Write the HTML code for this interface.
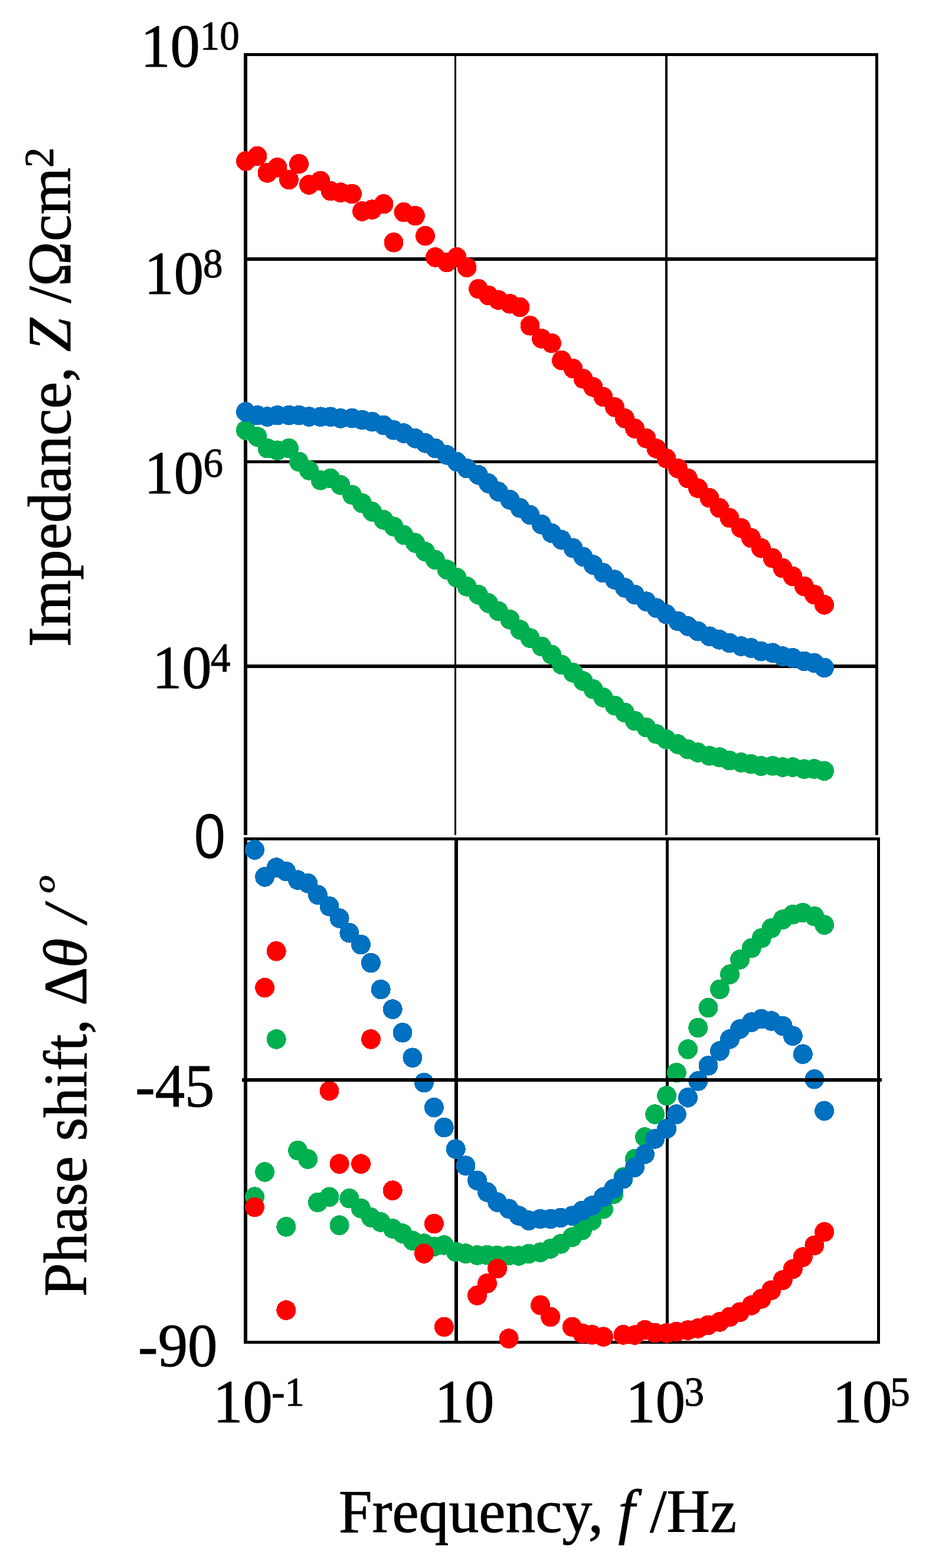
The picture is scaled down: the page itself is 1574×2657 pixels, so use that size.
<!DOCTYPE html>
<html lang="en"><head><meta charset="utf-8"><title>Impedance and phase shift vs frequency</title>
<style>
html,body{margin:0;padding:0;background:#fff}
svg{display:block}
text{fill:#000;white-space:pre;stroke:#000;stroke-width:1.0px;stroke-linejoin:round}
.s{font-family:"Liberation Serif","Times New Roman",serif}
.a{font-family:"Liberation Sans",Arial,sans-serif;stroke:none}
.i{font-style:italic}
</style></head>
<body>
<svg width="1574" height="2657" viewBox="0 0 1574 2657">
<rect width="1574" height="2657" fill="#fff"/>
<g fill="#000" shape-rendering="crispEdges">
<rect x="413" y="90" width="1075" height="5"/>
<rect x="413" y="90" width="6" height="1325"/>
<rect x="1483" y="90" width="5" height="1325"/>
<rect x="770" y="90" width="3" height="1325"/>
<rect x="1127" y="90" width="4" height="1325"/>
<rect x="413" y="436" width="1075" height="6"/>
<rect x="413" y="780" width="1075" height="5"/>
<rect x="413" y="1126" width="1075" height="6"/>
<rect x="413" y="1419" width="1078" height="5"/>
<rect x="413" y="2272" width="1078" height="5"/>
<rect x="413" y="1419" width="6" height="858"/>
<rect x="1486" y="1419" width="5" height="858"/>
<rect x="770" y="1419" width="6" height="858"/>
<rect x="1128" y="1419" width="5" height="858"/>
</g>
<g fill="#00b050" shape-rendering="crispEdges">
<ellipse cx="416.5" cy="728.9" rx="16.5" ry="16.85"/>
<ellipse cx="436.0" cy="740.1" rx="16.5" ry="16.85"/>
<ellipse cx="453.0" cy="759.7" rx="16.5" ry="16.85"/>
<ellipse cx="470.0" cy="763.3" rx="16.5" ry="16.85"/>
<ellipse cx="489.5" cy="759.7" rx="16.5" ry="16.85"/>
<ellipse cx="506.5" cy="782.5" rx="16.5" ry="16.85"/>
<ellipse cx="523.5" cy="796.9" rx="16.5" ry="16.85"/>
<ellipse cx="543.0" cy="813.8" rx="16.5" ry="16.85"/>
<ellipse cx="560.0" cy="810.6" rx="16.5" ry="16.85"/>
<ellipse cx="577.0" cy="821.9" rx="16.5" ry="16.85"/>
<ellipse cx="596.5" cy="838.5" rx="16.5" ry="16.85"/>
<ellipse cx="613.5" cy="852.7" rx="16.5" ry="16.85"/>
<ellipse cx="630.5" cy="867.0" rx="16.5" ry="16.85"/>
<ellipse cx="650.0" cy="880.9" rx="16.5" ry="16.85"/>
<ellipse cx="667.0" cy="892.3" rx="16.5" ry="16.85"/>
<ellipse cx="684.0" cy="906.4" rx="16.5" ry="16.85"/>
<ellipse cx="703.5" cy="920.0" rx="16.5" ry="16.85"/>
<ellipse cx="720.5" cy="934.8" rx="16.5" ry="16.85"/>
<ellipse cx="737.5" cy="948.7" rx="16.5" ry="16.85"/>
<ellipse cx="757.0" cy="965.1" rx="16.5" ry="16.85"/>
<ellipse cx="774.0" cy="978.9" rx="16.5" ry="16.85"/>
<ellipse cx="791.0" cy="993.9" rx="16.5" ry="16.85"/>
<ellipse cx="810.5" cy="1007.8" rx="16.5" ry="16.85"/>
<ellipse cx="827.5" cy="1022.0" rx="16.5" ry="16.85"/>
<ellipse cx="844.5" cy="1035.7" rx="16.5" ry="16.85"/>
<ellipse cx="864.0" cy="1049.9" rx="16.5" ry="16.85"/>
<ellipse cx="881.0" cy="1067.1" rx="16.5" ry="16.85"/>
<ellipse cx="898.0" cy="1081.2" rx="16.5" ry="16.85"/>
<ellipse cx="917.5" cy="1095.4" rx="16.5" ry="16.85"/>
<ellipse cx="934.5" cy="1109.3" rx="16.5" ry="16.85"/>
<ellipse cx="951.5" cy="1126.3" rx="16.5" ry="16.85"/>
<ellipse cx="971.0" cy="1139.9" rx="16.5" ry="16.85"/>
<ellipse cx="988.0" cy="1154.0" rx="16.5" ry="16.85"/>
<ellipse cx="1005.0" cy="1167.8" rx="16.5" ry="16.85"/>
<ellipse cx="1022.0" cy="1181.9" rx="16.5" ry="16.85"/>
<ellipse cx="1041.5" cy="1195.7" rx="16.5" ry="16.85"/>
<ellipse cx="1058.5" cy="1207.4" rx="16.5" ry="16.85"/>
<ellipse cx="1075.5" cy="1221.6" rx="16.5" ry="16.85"/>
<ellipse cx="1095.0" cy="1232.7" rx="16.5" ry="16.85"/>
<ellipse cx="1112.0" cy="1243.8" rx="16.5" ry="16.85"/>
<ellipse cx="1129.0" cy="1252.9" rx="16.5" ry="16.85"/>
<ellipse cx="1148.5" cy="1261.0" rx="16.5" ry="16.85"/>
<ellipse cx="1165.5" cy="1269.7" rx="16.5" ry="16.85"/>
<ellipse cx="1182.5" cy="1275.1" rx="16.5" ry="16.85"/>
<ellipse cx="1202.0" cy="1280.8" rx="16.5" ry="16.85"/>
<ellipse cx="1219.0" cy="1283.2" rx="16.5" ry="16.85"/>
<ellipse cx="1236.0" cy="1288.7" rx="16.5" ry="16.85"/>
<ellipse cx="1255.5" cy="1292.0" rx="16.5" ry="16.85"/>
<ellipse cx="1272.5" cy="1294.7" rx="16.5" ry="16.85"/>
<ellipse cx="1289.5" cy="1298.0" rx="16.5" ry="16.85"/>
<ellipse cx="1309.0" cy="1297.8" rx="16.5" ry="16.85"/>
<ellipse cx="1326.0" cy="1300.0" rx="16.5" ry="16.85"/>
<ellipse cx="1343.0" cy="1300.0" rx="16.5" ry="16.85"/>
<ellipse cx="1362.5" cy="1303.2" rx="16.5" ry="16.85"/>
<ellipse cx="1379.5" cy="1302.9" rx="16.5" ry="16.85"/>
<ellipse cx="1396.5" cy="1306.3" rx="16.5" ry="16.85"/>
</g>
<g fill="#0070c0" shape-rendering="crispEdges">
<ellipse cx="416.5" cy="698.0" rx="16.5" ry="16.85"/>
<ellipse cx="436.0" cy="703.7" rx="16.5" ry="16.85"/>
<ellipse cx="453.0" cy="706.1" rx="16.5" ry="16.85"/>
<ellipse cx="470.0" cy="703.7" rx="16.5" ry="16.85"/>
<ellipse cx="489.5" cy="703.7" rx="16.5" ry="16.85"/>
<ellipse cx="506.5" cy="703.7" rx="16.5" ry="16.85"/>
<ellipse cx="523.5" cy="706.1" rx="16.5" ry="16.85"/>
<ellipse cx="543.0" cy="706.3" rx="16.5" ry="16.85"/>
<ellipse cx="560.0" cy="706.3" rx="16.5" ry="16.85"/>
<ellipse cx="577.0" cy="708.9" rx="16.5" ry="16.85"/>
<ellipse cx="596.5" cy="708.7" rx="16.5" ry="16.85"/>
<ellipse cx="613.5" cy="711.5" rx="16.5" ry="16.85"/>
<ellipse cx="630.5" cy="714.7" rx="16.5" ry="16.85"/>
<ellipse cx="650.0" cy="720.6" rx="16.5" ry="16.85"/>
<ellipse cx="667.0" cy="728.8" rx="16.5" ry="16.85"/>
<ellipse cx="684.0" cy="734.1" rx="16.5" ry="16.85"/>
<ellipse cx="703.5" cy="742.8" rx="16.5" ry="16.85"/>
<ellipse cx="720.5" cy="750.8" rx="16.5" ry="16.85"/>
<ellipse cx="737.5" cy="759.7" rx="16.5" ry="16.85"/>
<ellipse cx="757.0" cy="770.9" rx="16.5" ry="16.85"/>
<ellipse cx="774.0" cy="782.6" rx="16.5" ry="16.85"/>
<ellipse cx="791.0" cy="793.7" rx="16.5" ry="16.85"/>
<ellipse cx="810.5" cy="804.8" rx="16.5" ry="16.85"/>
<ellipse cx="827.5" cy="819.0" rx="16.5" ry="16.85"/>
<ellipse cx="844.5" cy="833.1" rx="16.5" ry="16.85"/>
<ellipse cx="864.0" cy="846.9" rx="16.5" ry="16.85"/>
<ellipse cx="881.0" cy="860.8" rx="16.5" ry="16.85"/>
<ellipse cx="898.0" cy="872.5" rx="16.5" ry="16.85"/>
<ellipse cx="917.5" cy="888.7" rx="16.5" ry="16.85"/>
<ellipse cx="934.5" cy="903.3" rx="16.5" ry="16.85"/>
<ellipse cx="951.5" cy="914.8" rx="16.5" ry="16.85"/>
<ellipse cx="971.0" cy="928.8" rx="16.5" ry="16.85"/>
<ellipse cx="988.0" cy="943.4" rx="16.5" ry="16.85"/>
<ellipse cx="1005.0" cy="957.1" rx="16.5" ry="16.85"/>
<ellipse cx="1022.0" cy="970.7" rx="16.5" ry="16.85"/>
<ellipse cx="1041.5" cy="982.2" rx="16.5" ry="16.85"/>
<ellipse cx="1058.5" cy="995.9" rx="16.5" ry="16.85"/>
<ellipse cx="1075.5" cy="1007.7" rx="16.5" ry="16.85"/>
<ellipse cx="1095.0" cy="1019.2" rx="16.5" ry="16.85"/>
<ellipse cx="1112.0" cy="1030.3" rx="16.5" ry="16.85"/>
<ellipse cx="1129.0" cy="1040.8" rx="16.5" ry="16.85"/>
<ellipse cx="1148.5" cy="1052.5" rx="16.5" ry="16.85"/>
<ellipse cx="1165.5" cy="1061.0" rx="16.5" ry="16.85"/>
<ellipse cx="1182.5" cy="1069.7" rx="16.5" ry="16.85"/>
<ellipse cx="1202.0" cy="1078.3" rx="16.5" ry="16.85"/>
<ellipse cx="1219.0" cy="1083.9" rx="16.5" ry="16.85"/>
<ellipse cx="1236.0" cy="1089.5" rx="16.5" ry="16.85"/>
<ellipse cx="1255.5" cy="1095.0" rx="16.5" ry="16.85"/>
<ellipse cx="1272.5" cy="1098.0" rx="16.5" ry="16.85"/>
<ellipse cx="1289.5" cy="1103.7" rx="16.5" ry="16.85"/>
<ellipse cx="1309.0" cy="1106.3" rx="16.5" ry="16.85"/>
<ellipse cx="1326.0" cy="1112.1" rx="16.5" ry="16.85"/>
<ellipse cx="1343.0" cy="1114.8" rx="16.5" ry="16.85"/>
<ellipse cx="1362.5" cy="1120.4" rx="16.5" ry="16.85"/>
<ellipse cx="1379.5" cy="1123.3" rx="16.5" ry="16.85"/>
<ellipse cx="1396.5" cy="1131.4" rx="16.5" ry="16.85"/>
</g>
<g fill="#ff0000" shape-rendering="crispEdges">
<ellipse cx="416.5" cy="272.9" rx="16.5" ry="16.85"/>
<ellipse cx="436.0" cy="264.6" rx="16.5" ry="16.85"/>
<ellipse cx="453.0" cy="292.9" rx="16.5" ry="16.85"/>
<ellipse cx="470.0" cy="283.8" rx="16.5" ry="16.85"/>
<ellipse cx="489.5" cy="304.4" rx="16.5" ry="16.85"/>
<ellipse cx="506.5" cy="277.7" rx="16.5" ry="16.85"/>
<ellipse cx="523.5" cy="313.1" rx="16.5" ry="16.85"/>
<ellipse cx="543.0" cy="306.4" rx="16.5" ry="16.85"/>
<ellipse cx="560.0" cy="323.6" rx="16.5" ry="16.85"/>
<ellipse cx="577.0" cy="326.2" rx="16.5" ry="16.85"/>
<ellipse cx="596.5" cy="328.6" rx="16.5" ry="16.85"/>
<ellipse cx="613.5" cy="358.0" rx="16.5" ry="16.85"/>
<ellipse cx="630.5" cy="355.1" rx="16.5" ry="16.85"/>
<ellipse cx="650.0" cy="345.7" rx="16.5" ry="16.85"/>
<ellipse cx="667.0" cy="410.8" rx="16.5" ry="16.85"/>
<ellipse cx="684.0" cy="359.6" rx="16.5" ry="16.85"/>
<ellipse cx="703.5" cy="365.6" rx="16.5" ry="16.85"/>
<ellipse cx="720.5" cy="399.7" rx="16.5" ry="16.85"/>
<ellipse cx="737.5" cy="435.9" rx="16.5" ry="16.85"/>
<ellipse cx="757.0" cy="444.6" rx="16.5" ry="16.85"/>
<ellipse cx="774.0" cy="435.9" rx="16.5" ry="16.85"/>
<ellipse cx="791.0" cy="453.1" rx="16.5" ry="16.85"/>
<ellipse cx="810.5" cy="489.5" rx="16.5" ry="16.85"/>
<ellipse cx="827.5" cy="500.6" rx="16.5" ry="16.85"/>
<ellipse cx="844.5" cy="508.3" rx="16.5" ry="16.85"/>
<ellipse cx="864.0" cy="514.8" rx="16.5" ry="16.85"/>
<ellipse cx="881.0" cy="520.6" rx="16.5" ry="16.85"/>
<ellipse cx="898.0" cy="551.8" rx="16.5" ry="16.85"/>
<ellipse cx="917.5" cy="573.8" rx="16.5" ry="16.85"/>
<ellipse cx="934.5" cy="581.5" rx="16.5" ry="16.85"/>
<ellipse cx="951.5" cy="610.7" rx="16.5" ry="16.85"/>
<ellipse cx="971.0" cy="624.6" rx="16.5" ry="16.85"/>
<ellipse cx="988.0" cy="641.8" rx="16.5" ry="16.85"/>
<ellipse cx="1005.0" cy="655.9" rx="16.5" ry="16.85"/>
<ellipse cx="1022.0" cy="672.5" rx="16.5" ry="16.85"/>
<ellipse cx="1041.5" cy="689.9" rx="16.5" ry="16.85"/>
<ellipse cx="1058.5" cy="708.9" rx="16.5" ry="16.85"/>
<ellipse cx="1075.5" cy="726.1" rx="16.5" ry="16.85"/>
<ellipse cx="1095.0" cy="742.9" rx="16.5" ry="16.85"/>
<ellipse cx="1112.0" cy="760.0" rx="16.5" ry="16.85"/>
<ellipse cx="1129.0" cy="776.8" rx="16.5" ry="16.85"/>
<ellipse cx="1148.5" cy="793.8" rx="16.5" ry="16.85"/>
<ellipse cx="1165.5" cy="810.6" rx="16.5" ry="16.85"/>
<ellipse cx="1182.5" cy="827.2" rx="16.5" ry="16.85"/>
<ellipse cx="1202.0" cy="843.7" rx="16.5" ry="16.85"/>
<ellipse cx="1219.0" cy="860.7" rx="16.5" ry="16.85"/>
<ellipse cx="1236.0" cy="877.6" rx="16.5" ry="16.85"/>
<ellipse cx="1255.5" cy="894.8" rx="16.5" ry="16.85"/>
<ellipse cx="1272.5" cy="911.6" rx="16.5" ry="16.85"/>
<ellipse cx="1289.5" cy="928.8" rx="16.5" ry="16.85"/>
<ellipse cx="1309.0" cy="945.8" rx="16.5" ry="16.85"/>
<ellipse cx="1326.0" cy="962.7" rx="16.5" ry="16.85"/>
<ellipse cx="1343.0" cy="976.5" rx="16.5" ry="16.85"/>
<ellipse cx="1362.5" cy="993.6" rx="16.5" ry="16.85"/>
<ellipse cx="1379.5" cy="1007.6" rx="16.5" ry="16.85"/>
<ellipse cx="1396.5" cy="1024.8" rx="16.5" ry="16.85"/>
</g>
<g fill="#00b050" shape-rendering="crispEdges">
<ellipse cx="431.5" cy="2028.1" rx="16.5" ry="16.85"/>
<ellipse cx="448.6" cy="1985.9" rx="16.5" ry="16.85"/>
<ellipse cx="468.2" cy="1760.9" rx="16.5" ry="16.85"/>
<ellipse cx="484.8" cy="2078.8" rx="16.5" ry="16.85"/>
<ellipse cx="504.5" cy="1949.5" rx="16.5" ry="16.85"/>
<ellipse cx="521.7" cy="1964.1" rx="16.5" ry="16.85"/>
<ellipse cx="538.4" cy="2037.4" rx="16.5" ry="16.85"/>
<ellipse cx="558.0" cy="2028.3" rx="16.5" ry="16.85"/>
<ellipse cx="575.1" cy="2076.2" rx="16.5" ry="16.85"/>
<ellipse cx="591.9" cy="2030.7" rx="16.5" ry="16.85"/>
<ellipse cx="611.5" cy="2047.7" rx="16.5" ry="16.85"/>
<ellipse cx="628.4" cy="2062.9" rx="16.5" ry="16.85"/>
<ellipse cx="645.2" cy="2071.0" rx="16.5" ry="16.85"/>
<ellipse cx="665.2" cy="2081.9" rx="16.5" ry="16.85"/>
<ellipse cx="682.0" cy="2090.1" rx="16.5" ry="16.85"/>
<ellipse cx="698.9" cy="2102.3" rx="16.5" ry="16.85"/>
<ellipse cx="718.4" cy="2107.1" rx="16.5" ry="16.85"/>
<ellipse cx="735.4" cy="2112.3" rx="16.5" ry="16.85"/>
<ellipse cx="752.4" cy="2109.9" rx="16.5" ry="16.85"/>
<ellipse cx="772.2" cy="2121.3" rx="16.5" ry="16.85"/>
<ellipse cx="789.0" cy="2124.1" rx="16.5" ry="16.85"/>
<ellipse cx="808.5" cy="2126.9" rx="16.5" ry="16.85"/>
<ellipse cx="825.5" cy="2126.7" rx="16.5" ry="16.85"/>
<ellipse cx="842.7" cy="2127.3" rx="16.5" ry="16.85"/>
<ellipse cx="862.1" cy="2127.4" rx="16.5" ry="16.85"/>
<ellipse cx="879.0" cy="2128.0" rx="16.5" ry="16.85"/>
<ellipse cx="896.0" cy="2124.5" rx="16.5" ry="16.85"/>
<ellipse cx="915.5" cy="2122.1" rx="16.5" ry="16.85"/>
<ellipse cx="932.7" cy="2116.0" rx="16.5" ry="16.85"/>
<ellipse cx="950.0" cy="2107.8" rx="16.5" ry="16.85"/>
<ellipse cx="969.4" cy="2096.3" rx="16.5" ry="16.85"/>
<ellipse cx="986.4" cy="2084.7" rx="16.5" ry="16.85"/>
<ellipse cx="1003.0" cy="2068.5" rx="16.5" ry="16.85"/>
<ellipse cx="1022.5" cy="2048.7" rx="16.5" ry="16.85"/>
<ellipse cx="1039.6" cy="2023.5" rx="16.5" ry="16.85"/>
<ellipse cx="1056.0" cy="1994.8" rx="16.5" ry="16.85"/>
<ellipse cx="1075.5" cy="1963.7" rx="16.5" ry="16.85"/>
<ellipse cx="1092.6" cy="1926.9" rx="16.5" ry="16.85"/>
<ellipse cx="1109.7" cy="1888.1" rx="16.5" ry="16.85"/>
<ellipse cx="1129.6" cy="1856.7" rx="16.5" ry="16.85"/>
<ellipse cx="1146.3" cy="1817.7" rx="16.5" ry="16.85"/>
<ellipse cx="1165.5" cy="1777.9" rx="16.5" ry="16.85"/>
<ellipse cx="1182.8" cy="1741.5" rx="16.5" ry="16.85"/>
<ellipse cx="1200.0" cy="1707.6" rx="16.5" ry="16.85"/>
<ellipse cx="1219.5" cy="1676.4" rx="16.5" ry="16.85"/>
<ellipse cx="1236.6" cy="1651.1" rx="16.5" ry="16.85"/>
<ellipse cx="1253.6" cy="1625.9" rx="16.5" ry="16.85"/>
<ellipse cx="1273.3" cy="1606.5" rx="16.5" ry="16.85"/>
<ellipse cx="1290.2" cy="1589.7" rx="16.5" ry="16.85"/>
<ellipse cx="1306.9" cy="1572.9" rx="16.5" ry="16.85"/>
<ellipse cx="1326.2" cy="1558.1" rx="16.5" ry="16.85"/>
<ellipse cx="1343.3" cy="1549.7" rx="16.5" ry="16.85"/>
<ellipse cx="1360.3" cy="1546.6" rx="16.5" ry="16.85"/>
<ellipse cx="1379.9" cy="1552.7" rx="16.5" ry="16.85"/>
<ellipse cx="1396.7" cy="1567.2" rx="16.5" ry="16.85"/>
</g>
<g fill="#ff0000" shape-rendering="crispEdges">
<ellipse cx="431.5" cy="2045.5" rx="16.5" ry="16.85"/>
<ellipse cx="448.6" cy="1673.7" rx="16.5" ry="16.85"/>
<ellipse cx="468.2" cy="1611.8" rx="16.5" ry="16.85"/>
<ellipse cx="484.8" cy="2220.1" rx="16.5" ry="16.85"/>
<ellipse cx="558.0" cy="1848.5" rx="16.5" ry="16.85"/>
<ellipse cx="575.1" cy="1972.2" rx="16.5" ry="16.85"/>
<ellipse cx="611.5" cy="1972.2" rx="16.5" ry="16.85"/>
<ellipse cx="628.4" cy="1760.9" rx="16.5" ry="16.85"/>
<ellipse cx="665.2" cy="2017.2" rx="16.5" ry="16.85"/>
<ellipse cx="718.4" cy="2124.1" rx="16.5" ry="16.85"/>
<ellipse cx="735.4" cy="2073.6" rx="16.5" ry="16.85"/>
<ellipse cx="752.4" cy="2248.4" rx="16.5" ry="16.85"/>
<ellipse cx="808.5" cy="2195.1" rx="16.5" ry="16.85"/>
<ellipse cx="825.5" cy="2174.7" rx="16.5" ry="16.85"/>
<ellipse cx="842.7" cy="2149.6" rx="16.5" ry="16.85"/>
<ellipse cx="862.1" cy="2268.2" rx="16.5" ry="16.85"/>
<ellipse cx="915.5" cy="2211.6" rx="16.5" ry="16.85"/>
<ellipse cx="932.7" cy="2231.5" rx="16.5" ry="16.85"/>
<ellipse cx="969.4" cy="2248.4" rx="16.5" ry="16.85"/>
<ellipse cx="986.4" cy="2259.3" rx="16.5" ry="16.85"/>
<ellipse cx="1003.0" cy="2261.8" rx="16.5" ry="16.85"/>
<ellipse cx="1022.5" cy="2265.2" rx="16.5" ry="16.85"/>
<ellipse cx="1056.0" cy="2261.9" rx="16.5" ry="16.85"/>
<ellipse cx="1075.5" cy="2262.2" rx="16.5" ry="16.85"/>
<ellipse cx="1092.6" cy="2253.7" rx="16.5" ry="16.85"/>
<ellipse cx="1109.7" cy="2258.5" rx="16.5" ry="16.85"/>
<ellipse cx="1129.6" cy="2258.9" rx="16.5" ry="16.85"/>
<ellipse cx="1146.3" cy="2256.5" rx="16.5" ry="16.85"/>
<ellipse cx="1165.5" cy="2254.1" rx="16.5" ry="16.85"/>
<ellipse cx="1182.8" cy="2250.9" rx="16.5" ry="16.85"/>
<ellipse cx="1200.0" cy="2245.4" rx="16.5" ry="16.85"/>
<ellipse cx="1219.5" cy="2239.9" rx="16.5" ry="16.85"/>
<ellipse cx="1236.6" cy="2231.4" rx="16.5" ry="16.85"/>
<ellipse cx="1253.6" cy="2223.3" rx="16.5" ry="16.85"/>
<ellipse cx="1273.3" cy="2211.9" rx="16.5" ry="16.85"/>
<ellipse cx="1290.2" cy="2200.8" rx="16.5" ry="16.85"/>
<ellipse cx="1306.9" cy="2186.3" rx="16.5" ry="16.85"/>
<ellipse cx="1326.2" cy="2169.1" rx="16.5" ry="16.85"/>
<ellipse cx="1343.3" cy="2150.3" rx="16.5" ry="16.85"/>
<ellipse cx="1360.3" cy="2130.1" rx="16.5" ry="16.85"/>
<ellipse cx="1379.9" cy="2110.3" rx="16.5" ry="16.85"/>
<ellipse cx="1396.7" cy="2087.6" rx="16.5" ry="16.85"/>
</g>
<g fill="#0070c0" shape-rendering="crispEdges">
<ellipse cx="431.5" cy="1440.0" rx="16.5" ry="16.85"/>
<ellipse cx="448.6" cy="1485.9" rx="16.5" ry="16.85"/>
<ellipse cx="468.2" cy="1470.1" rx="16.5" ry="16.85"/>
<ellipse cx="484.8" cy="1476.6" rx="16.5" ry="16.85"/>
<ellipse cx="504.5" cy="1491.2" rx="16.5" ry="16.85"/>
<ellipse cx="521.7" cy="1496.8" rx="16.5" ry="16.85"/>
<ellipse cx="538.4" cy="1516.3" rx="16.5" ry="16.85"/>
<ellipse cx="558.0" cy="1535.8" rx="16.5" ry="16.85"/>
<ellipse cx="575.1" cy="1556.0" rx="16.5" ry="16.85"/>
<ellipse cx="591.9" cy="1580.8" rx="16.5" ry="16.85"/>
<ellipse cx="611.5" cy="1600.6" rx="16.5" ry="16.85"/>
<ellipse cx="628.4" cy="1631.6" rx="16.5" ry="16.85"/>
<ellipse cx="645.2" cy="1676.6" rx="16.5" ry="16.85"/>
<ellipse cx="665.2" cy="1710.1" rx="16.5" ry="16.85"/>
<ellipse cx="682.0" cy="1749.8" rx="16.5" ry="16.85"/>
<ellipse cx="698.9" cy="1792.3" rx="16.5" ry="16.85"/>
<ellipse cx="718.4" cy="1834.6" rx="16.5" ry="16.85"/>
<ellipse cx="735.4" cy="1876.7" rx="16.5" ry="16.85"/>
<ellipse cx="752.4" cy="1910.5" rx="16.5" ry="16.85"/>
<ellipse cx="772.2" cy="1947.1" rx="16.5" ry="16.85"/>
<ellipse cx="789.0" cy="1975.2" rx="16.5" ry="16.85"/>
<ellipse cx="808.5" cy="2000.3" rx="16.5" ry="16.85"/>
<ellipse cx="825.5" cy="2020.1" rx="16.5" ry="16.85"/>
<ellipse cx="842.7" cy="2037.1" rx="16.5" ry="16.85"/>
<ellipse cx="862.1" cy="2048.3" rx="16.5" ry="16.85"/>
<ellipse cx="879.0" cy="2060.0" rx="16.5" ry="16.85"/>
<ellipse cx="896.0" cy="2068.1" rx="16.5" ry="16.85"/>
<ellipse cx="915.5" cy="2065.5" rx="16.5" ry="16.85"/>
<ellipse cx="932.7" cy="2065.5" rx="16.5" ry="16.85"/>
<ellipse cx="950.0" cy="2063.5" rx="16.5" ry="16.85"/>
<ellipse cx="969.4" cy="2060.2" rx="16.5" ry="16.85"/>
<ellipse cx="986.4" cy="2051.5" rx="16.5" ry="16.85"/>
<ellipse cx="1003.0" cy="2043.1" rx="16.5" ry="16.85"/>
<ellipse cx="1022.5" cy="2028.3" rx="16.5" ry="16.85"/>
<ellipse cx="1039.6" cy="2014.3" rx="16.5" ry="16.85"/>
<ellipse cx="1056.0" cy="1997.7" rx="16.5" ry="16.85"/>
<ellipse cx="1075.5" cy="1978.0" rx="16.5" ry="16.85"/>
<ellipse cx="1092.6" cy="1955.8" rx="16.5" ry="16.85"/>
<ellipse cx="1109.7" cy="1929.9" rx="16.5" ry="16.85"/>
<ellipse cx="1129.6" cy="1912.7" rx="16.5" ry="16.85"/>
<ellipse cx="1146.3" cy="1888.1" rx="16.5" ry="16.85"/>
<ellipse cx="1165.5" cy="1859.8" rx="16.5" ry="16.85"/>
<ellipse cx="1182.8" cy="1831.8" rx="16.5" ry="16.85"/>
<ellipse cx="1200.0" cy="1805.8" rx="16.5" ry="16.85"/>
<ellipse cx="1219.5" cy="1780.9" rx="16.5" ry="16.85"/>
<ellipse cx="1236.6" cy="1760.8" rx="16.5" ry="16.85"/>
<ellipse cx="1253.6" cy="1743.8" rx="16.5" ry="16.85"/>
<ellipse cx="1273.3" cy="1732.1" rx="16.5" ry="16.85"/>
<ellipse cx="1290.2" cy="1726.6" rx="16.5" ry="16.85"/>
<ellipse cx="1306.9" cy="1730.0" rx="16.5" ry="16.85"/>
<ellipse cx="1326.2" cy="1738.5" rx="16.5" ry="16.85"/>
<ellipse cx="1343.3" cy="1755.3" rx="16.5" ry="16.85"/>
<ellipse cx="1360.3" cy="1786.2" rx="16.5" ry="16.85"/>
<ellipse cx="1379.9" cy="1828.7" rx="16.5" ry="16.85"/>
<ellipse cx="1396.7" cy="1882.3" rx="16.5" ry="16.85"/>
</g>
<rect x="410" y="1827" width="1084" height="6" fill="#000" shape-rendering="crispEdges"/>
<text class="s" transform="translate(238.13,113.00) scale(1,1.025)" font-size="100.7">10</text>
<text class="s" transform="translate(338.70,84.40) scale(1,1.035)" font-size="67">10</text>
<text class="s" transform="translate(244.33,498.30) scale(1,1.025)" font-size="100.7">10</text>
<text class="s" transform="translate(344.00,470.30) scale(1,1.035)" font-size="67">8</text>
<text class="s" transform="translate(244.33,836.30) scale(1,1.025)" font-size="100.7">10</text>
<text class="s" transform="translate(344.40,808.20) scale(1,1.035)" font-size="67">6</text>
<text class="s" transform="translate(257.88,1165.80) scale(1,1.025)" font-size="100.7">10</text>
<text class="s" transform="translate(357.10,1137.90) scale(1,1.035)" font-size="67">4</text>
<text class="a" transform="translate(328.56,1454.20) scale(0.955,1.06)" font-size="101">0</text>
<text class="s" transform="translate(229.20,1874.70) scale(1,1.03)" font-size="100.7">-45</text>
<text class="s" transform="translate(234.10,2314.50) scale(1,1.03)" font-size="100.7">-90</text>
<text class="s" transform="translate(361.08,2410.00) scale(1,1.025)" font-size="100.7">10</text>
<text class="s" transform="translate(460.20,2381.90) scale(1,1.035)" font-size="67">-1</text>
<text class="s" transform="translate(736.58,2410.00) scale(1,1.025)" font-size="100.7">10</text>
<text class="s" transform="translate(1060.33,2410.00) scale(1,1.025)" font-size="100.7">10</text>
<text class="s" transform="translate(1159.40,2381.80) scale(1,1.035)" font-size="67">3</text>
<text class="s" transform="translate(1410.58,2410.00) scale(1,1.025)" font-size="100.7">10</text>
<text class="s" transform="translate(1508.30,2381.90) scale(1,1.035)" font-size="67">5</text>
<text class="s" transform="translate(118.90,1096.37) rotate(-90) scale(1,1.02)" font-size="102.4">Impedance, <tspan class="i">Z</tspan> /Ωcm<tspan font-size="68" dy="-28">2</tspan></text>
<text class="s" transform="translate(145.90,2197.06) rotate(-90) scale(1,1.02)" font-size="102">Phase shift, <tspan dx="-3">Δ</tspan><tspan class="i" dx="-1.5">θ</tspan><tspan class="i" dx="1.5"> /</tspan></text>
<text class="s i" transform="translate(92.00,1513.40) rotate(-90) scale(1.15,0.98)" font-size="53">o</text>
<text class="s" transform="translate(574.07,2596.40) scale(1,1.025)" font-size="101.7">Frequency, <tspan class="i">f</tspan> /Hz</text>
</svg>
</body></html>
